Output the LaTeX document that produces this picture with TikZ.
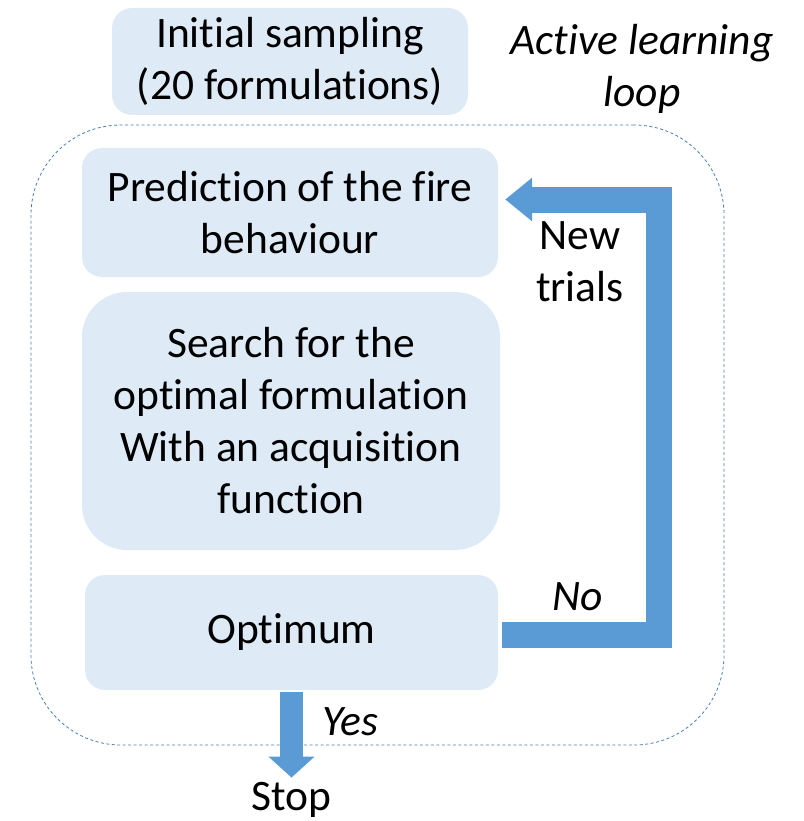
\documentclass[tikz,border=0pt]{standalone}
\usepackage{fontspec}
\setmainfont{Carlito}[Ligatures=NoCommon]
\usetikzlibrary{positioning, arrows.meta, calc}
\definecolor{boxblue}{HTML}{DEEBF7}
\definecolor{arrowblue}{HTML}{5B9BD5}
\definecolor{frameblue}{HTML}{4A7EB0}

\begin{document}
\begin{tikzpicture}[
    x=1pt, y=-1pt,
    box/.style={rectangle, fill=boxblue, rounded corners=20pt, align=center, inner sep=0pt, font=\fontsize{43.5}{52}\selectfont},
    txt/.style={align=center, inner sep=0pt, font=\fontsize{43.5}{52}\selectfont},
    itxt/.style={txt, font=\fontsize{43.5}{52}\selectfont\itshape},
    loopbox/.style={draw=frameblue, line width=0.8pt, dash pattern=on 3pt off 2.5pt, rounded corners=90pt},
    bigarrow/.style={arrowblue, line width=26pt, line join=miter, -{Triangle[width=42pt,length=27pt]}},
    downarrow/.style={arrowblue, line width=23pt, -{Triangle[width=45pt,length=21pt]}}
]
\useasboundingbox (0,0) rectangle (803,821);

% Active learning frame
\node[loopbox, minimum width=693pt, minimum height=620pt] (loop) at (377.5,435) {};

% Nodes
\node[box, minimum width=356pt, minimum height=107pt] (init) at (290,61.5) {Initial sampling\\(20 formulations)};
\node[itxt] (looplabel) at (642,69) {Active learning\\loop};
\node[box, minimum width=416pt, minimum height=129pt] (prediction) at (290,212.5) {Prediction of the fire\\behaviour};
\node[box, minimum width=418pt, minimum height=258pt, rounded corners=45pt] (search) at (291,421) {Search for the\\optimal formulation\\With an acquisition\\function};
\node[box, minimum width=413pt, minimum height=115pt] (optimum) at (291.5,632.5) {Optimum};
\node[txt, anchor=base] (stop) at (291.5,810) {Stop};

% Arrows
\draw[bigarrow] ([xshift=4pt,yshift=-2pt]optimum.east) -- ++(157,0) |- ([xshift=7pt,yshift=13pt]prediction.east);
\draw[downarrow, shorten >=4pt] ([yshift=-2pt]optimum.south) -- (stop.north);

% Labels
\node[txt] (newtrials) at (580,262) {New\\trials};
\node[itxt] (no) at (578,597) {No};
\node[itxt] (yes) at (350,722) {Yes};

\end{tikzpicture}
\end{document}
